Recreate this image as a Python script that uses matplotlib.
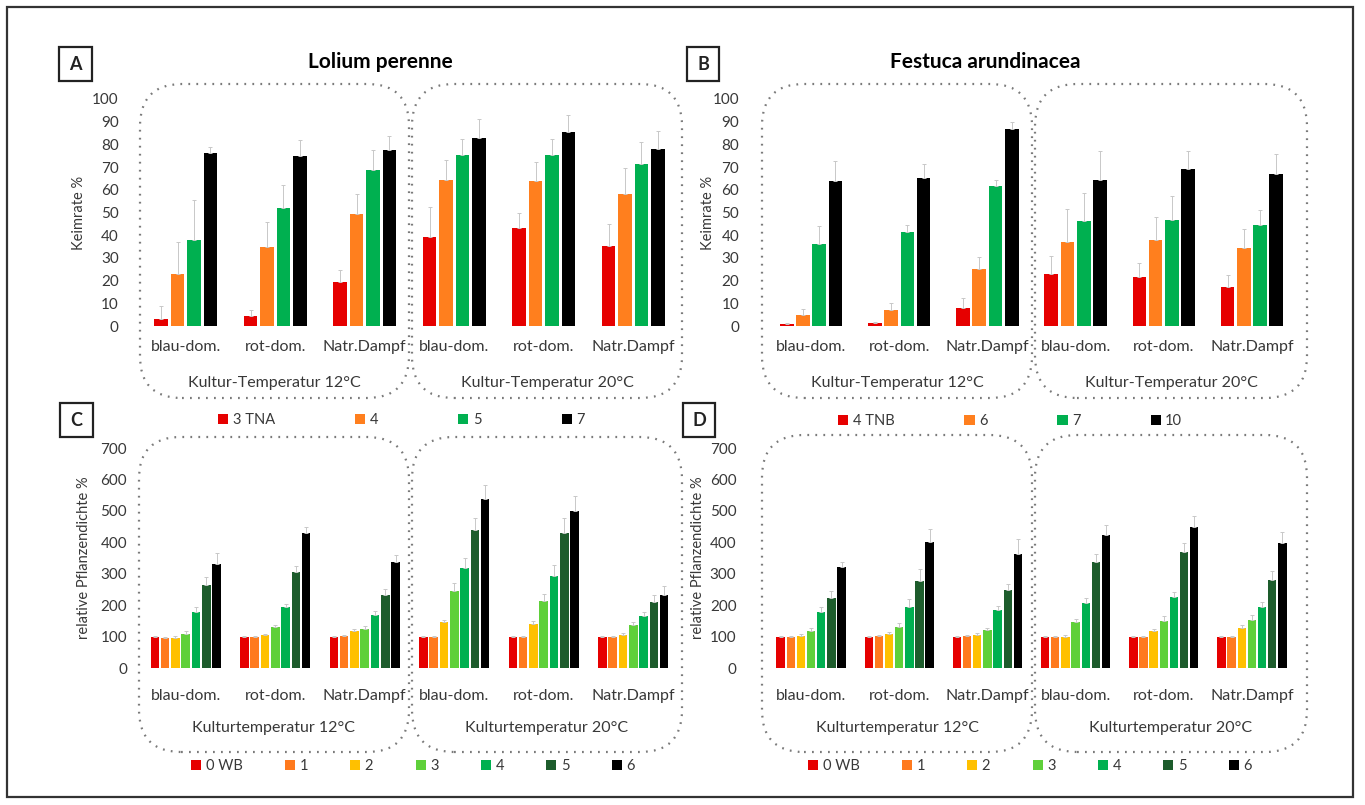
import matplotlib
matplotlib.use("Agg")
import matplotlib.pyplot as plt
import numpy as np
from matplotlib.patches import Patch, FancyBboxPatch, Rectangle

plt.rcParams['font.family'] = ['Lato', 'DejaVu Sans']

W, H = 1365, 805

# data
categories = ["blau-dom.", "rot-dom.", "Natr.Dampf", "blau-dom.", "rot-dom.", "Natr.Dampf"]
temps_top = ["Kultur-Temperatur 12°C", "Kultur-Temperatur 20°C"]
temps_bottom = ["Kulturtemperatur 12°C", "Kulturtemperatur 20°C"]

# A: Lolium perenne, Keimrate %
a_labels = ["3 TNA", "4", "5", "7"]
a_values = [
    [3, 4.4, 19.3, 39.4, 43, 35.3],
    [23, 34.7, 49.3, 64.5, 63.8, 58.1],
    [38, 51.8, 68.9, 75.2, 75.2, 71.2],
    [76, 75, 77.4, 82.9, 85.3, 78.1],
]
a_errors = [
    [5.9, 2.6, 5.2, 13.2, 6.9, 9.7],
    [14, 11.3, 8.7, 8.8, 8.5, 11.7],
    [17.5, 10.2, 8.8, 7.1, 7.1, 9.8],
    [3, 7, 6.1, 8.3, 7.8, 7.7],
]

# B: Festuca arundinacea, Keimrate %
b_labels = ["4 TNB", "6", "7", "10"]
b_values = [
    [0.7, 1.2, 8.1, 23, 21.5, 17.3],
    [4.8, 6.9, 25.2, 36.9, 37.8, 34.4],
    [36.3, 41.4, 61.5, 46.4, 46.9, 44.7],
    [64, 65.2, 86.8, 64.4, 69.1, 67.1],
]
b_errors = [
    [0.8, 0.6, 4.3, 8, 6.3, 5.1],
    [2.5, 3.2, 5.1, 14.8, 10.1, 8.5],
    [7.6, 3.3, 2.9, 12.2, 10.2, 6.5],
    [8.8, 6.1, 3.2, 12.5, 8.1, 8.7],
]

# C: Lolium perenne, relative Pflanzendichte %
c_labels = ["0 WB", "1", "2", "3", "4", "5", "6"]
c_values = [
    [100, 100, 100, 100, 100, 100],
    [95, 100, 101, 100, 100, 100],
    [97, 104, 117, 145, 141, 105],
    [107, 130, 124, 246, 213, 136],
    [178, 194, 168, 319, 293, 165],
    [264, 307, 232, 440, 431, 209],
    [330, 428, 338, 537, 500, 233],
]
c_errors = [
    [3, 3, 3, 3, 3, 3],
    [4, 3, 4, 3, 3, 3],
    [5, 4, 6, 8, 8, 5],
    [10, 6, 10, 23, 23, 11],
    [16, 10, 12, 30, 35, 13],
    [26, 16, 20, 38, 45, 24],
    [36, 20, 21, 46, 48, 29],
]

# D: Festuca arundinacea, relative Pflanzendichte %
d_labels = ["0 WB", "1", "2", "3", "4", "5", "6"]
d_values = [
    [100, 100, 100, 100, 100, 100],
    [100, 101, 101, 100, 100, 100],
    [103, 107, 105, 100, 117, 126],
    [119, 130, 120, 147, 149, 152],
    [179, 195, 184, 206, 226, 194],
    [224, 276, 248, 338, 368, 280],
    [320, 402, 362, 423, 450, 397],
]
d_errors = [
    [3, 3, 3, 3, 3, 3],
    [3, 4, 3, 3, 3, 3],
    [5, 6, 5, 5, 6, 10],
    [8, 14, 8, 10, 16, 16],
    [15, 24, 13, 18, 16, 16],
    [20, 39, 18, 24, 30, 29],
    [18, 41, 48, 32, 35, 35],
]

colors4 = ['#e60000', '#ff7f1e', '#00b050', '#000000']
colors7 = ['#e60000', '#ff7a1e', '#ffc000', '#5fd03a', '#00b050', '#1d5c2c', '#000000']
text_col = '#383838'

fig = plt.figure(figsize=(W / 100, H / 100), dpi=100)


def px_axes(left, right, top, bottom):
    return fig.add_axes([left / W, 1 - bottom / H, (right - left) / W, (bottom - top) / H])


def draw_panel(ax, values, errors, colors, ymax, ystep, width, pitch, ytick_pad, xtick_pad):
    x = np.arange(len(categories))
    n = len(values)
    for i in range(n):
        off = (i - (n - 1) / 2) * pitch
        ax.bar(x + off, values[i], width, color=colors[i],
               yerr=[np.zeros(len(x)), errors[i]],
               error_kw=dict(ecolor='#c8c8c8', elinewidth=0.7, capsize=1.2, capthick=0.7))
    ax.set_xlim(-0.5, 5.5)
    ax.set_ylim(0, ymax)
    ax.set_yticks(np.arange(0, ymax + 1, ystep))
    ax.set_xticks(x)
    ax.set_xticklabels(categories, fontsize=11.5, color=text_col)
    ax.tick_params(axis='y', length=0, pad=ytick_pad, labelsize=11, labelcolor=text_col)
    ax.tick_params(axis='x', length=0, pad=xtick_pad)
    for s in ax.spines.values():
        s.set_visible(False)
    ax.patch.set_alpha(0)


def dotted_box(x0, y0, x1, y1):
    box = FancyBboxPatch((x0 / 100, (H - y1) / 100), (x1 - x0) / 100, (y1 - y0) / 100,
                         boxstyle='round,pad=0,rounding_size=0.42',
                         transform=fig.dpi_scale_trans, fill=False,
                         ec='#7a7a7a', lw=1.6, ls=(0, (0.8, 2.8)))
    fig.add_artist(box)


def letter_box(x0, y0, x1, y1, letter):
    r = Rectangle((x0 / 100, (H - y1) / 100), (x1 - x0) / 100, (y1 - y0) / 100,
                  transform=fig.dpi_scale_trans, fill=False, ec='#222222', lw=1.6)
    fig.add_artist(r)
    fig.text((x0 + x1) / 2 / W, 1 - (y0 + y1) / 2 / H, letter, ha='center', va='center',
             fontsize=13, fontweight='bold', color='#222222')


def legend(labels, colors, x, y, spacing):
    handles = [Patch(facecolor=c, edgecolor='none') for c in colors]
    fig.legend(handles, labels, loc='center left', bbox_to_anchor=(x / W, 1 - y / H),
               ncol=len(labels), frameon=False, handlelength=0.7, handleheight=0.7,
               handletextpad=0.3, columnspacing=spacing, borderpad=0, borderaxespad=0,
               fontsize=10.5, labelcolor=text_col)


# outer frame
fig.add_artist(Rectangle((0.07, 0.08), (1353 - 7) / 100, (797 - 7) / 100,
                         transform=fig.dpi_scale_trans, fill=False, ec='#333333', lw=1.6))

# panel A
axA = px_axes(141, 678, 99, 326)
draw_panel(axA, a_values, a_errors, colors4, 100, 10, 0.155, 0.184, 16, 10)
axA.set_ylabel("Keimrate %", fontsize=10.5, color=text_col)
axA.yaxis.set_label_coords(-0.102, 0.5)
dotted_box(140, 84, 409, 398)
dotted_box(412, 84, 682, 398)
letter_box(59, 47, 92, 81, "A")
fig.text(380 / W, 1 - 62 / H, "Lolium perenne", ha='center', va='center', fontsize=15, fontweight='bold')
legend(a_labels, colors4, 218, 420, 5.5)

# panel B
axB = px_axes(767, 1296, 99, 326)
draw_panel(axB, b_values, b_errors, colors4, 100, 10, 0.155, 0.184, 20, 10)
axB.set_ylabel("Keimrate %", fontsize=10.5, color=text_col)
axB.yaxis.set_label_coords(-0.098, 0.5)
dotted_box(762, 84, 1032, 398)
dotted_box(1035, 84, 1307, 398)
letter_box(687, 47, 719, 81, "B")
fig.text(985 / W, 1 - 62 / H, "Festuca arundinacea", ha='center', va='center', fontsize=15, fontweight='bold')
legend(b_labels, colors4, 838, 421, 4.8)

# panel C
axC = px_axes(141, 678, 448, 668)
draw_panel(axC, c_values, c_errors, colors7, 700, 100, 0.095, 0.115, 10, 15)
axC.set_ylabel("relative Pflanzendichte %", fontsize=10.5, color=text_col)
axC.yaxis.set_label_coords(-0.093, 0.5)
dotted_box(139, 437, 409, 752)
dotted_box(412, 437, 682, 752)
letter_box(60, 403, 93, 437, "C")
legend(c_labels, colors7, 191, 766, 2.9)

# panel D
axD = px_axes(767, 1296, 448, 668)
draw_panel(axD, d_values, d_errors, colors7, 700, 100, 0.095, 0.115, 22, 15)
axD.set_ylabel("relative Pflanzendichte %", fontsize=10.5, color=text_col)
axD.yaxis.set_label_coords(-0.117, 0.5)
dotted_box(762, 435, 1032, 752)
dotted_box(1035, 435, 1307, 752)
letter_box(683, 403, 715, 437, "D")
legend(d_labels, colors7, 808, 766, 2.9)

# temperature group labels
for (x0, x1), t in zip([(140, 409), (412, 682)], temps_top):
    fig.text((x0 + x1) / 2 / W, 1 - 383 / H, t, ha='center', va='center', fontsize=11.5, color=text_col)
for (x0, x1), t in zip([(762, 1032), (1035, 1307)], temps_top):
    fig.text((x0 + x1) / 2 / W, 1 - 383 / H, t, ha='center', va='center', fontsize=11.5, color=text_col)
for (x0, x1), t in zip([(139, 409), (412, 682)], temps_bottom):
    fig.text((x0 + x1) / 2 / W, 1 - 728 / H, t, ha='center', va='center', fontsize=11.5, color=text_col)
for (x0, x1), t in zip([(762, 1032), (1035, 1307)], temps_bottom):
    fig.text((x0 + x1) / 2 / W, 1 - 728 / H, t, ha='center', va='center', fontsize=11.5, color=text_col)

fig.savefig("out.png", dpi=100)
